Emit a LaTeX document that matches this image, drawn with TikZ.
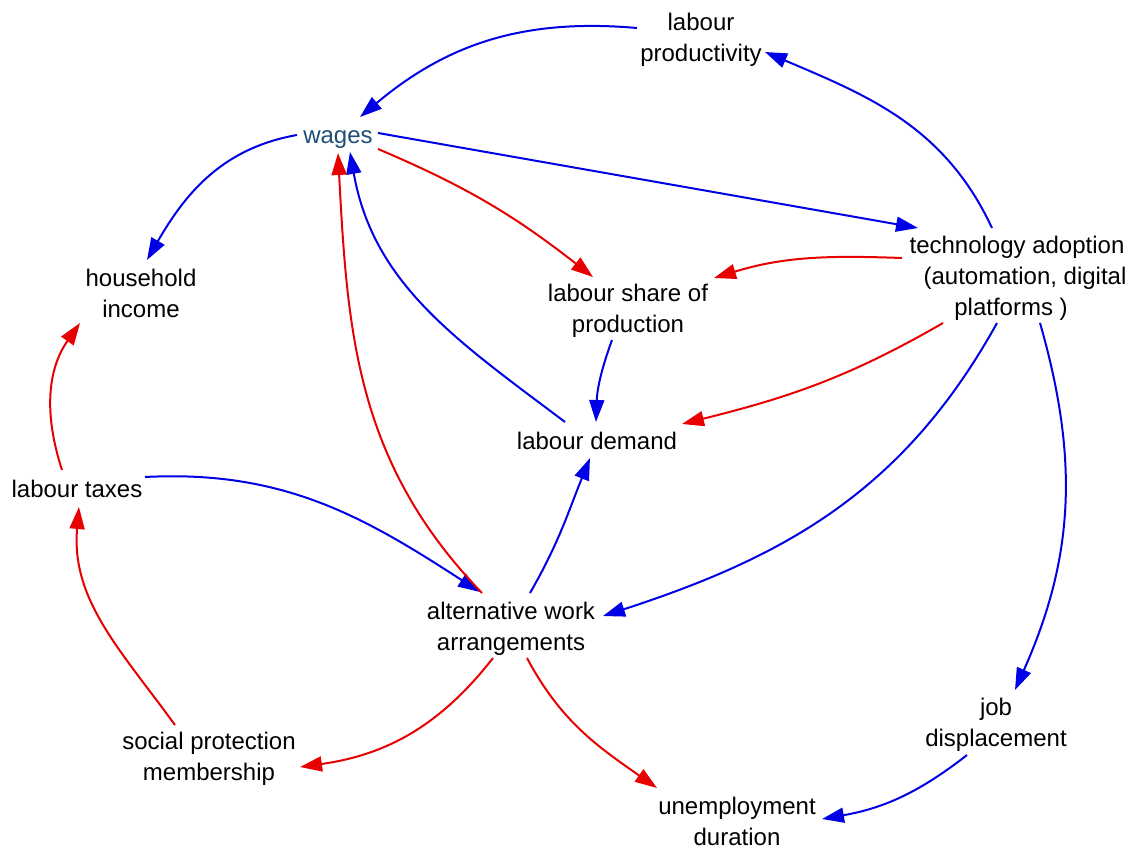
\documentclass[tikz,border=0pt]{standalone}
\usepackage{fontspec}
\setmainfont{Liberation Sans}
\usetikzlibrary{arrows.meta}
\definecolor{linkblue}{RGB}{0,0,230}
\definecolor{linkred}{RGB}{232,0,0}
\definecolor{wagetext}{RGB}{31,78,121}
\tikzset{
  var/.style={font=\fontsize{24}{31}\selectfont, align=center, inner sep=0pt, text=black},
  link/.style={line width=2pt, -{Triangle[length=22pt,width=15pt]}},
  poslink/.style={link, draw=linkblue},
  neglink/.style={link, draw=linkred},
}
\begin{document}
\begin{tikzpicture}[x=1pt,y=1pt]
\useasboundingbox (0,0) rectangle (1131,-848);

% variables
\node[var] (lp) at (701,-40)  {labour\\productivity};
\node[var, text=wagetext] (w) at (338,-140) {wages};
\node[var] (hi) at (141,-293) {household\\income};
\node[var] (ls) at (628,-311) {labour share of\\production};
\node[var] (ld) at (597,-441) {labour demand};
\node[var] (ta) at (1017,-278) {technology adoption\\\hspace*{16pt}(automation, digital\\platforms )\hspace*{12pt}};
\node[var] (lt) at (77,-489)  {labour taxes};
\node[var] (aw) at (511,-629) {alternative work\\arrangements};
\node[var] (jd) at (996,-725) {job\\displacement};
\node[var] (sp) at (209,-759) {social protection\\membership};
\node[var] (ud) at (737,-821) {unemployment\\duration};

% positive links
\draw[poslink] ([shift={(-64,12)}]lp.center) to[out=175,in=40] ([shift={(22,23)}]w.center);
\draw[poslink] ([shift={(-25,50)}]ta.center) to[out=115,in=-23] ([shift={(64,-12)}]lp.center);
\draw[poslink] ([shift={(-41,5)}]w.center) to[out=190,in=60] ([shift={(6,33)}]hi.center);
\draw[poslink] ([shift={(40,7)}]w.center) -- ([shift={(-99,50)}]ta.center);
\draw[poslink] ([shift={(-16,-29)}]ls.center) to[out=250,in=88] ([shift={(-1,19)}]ld.center);
\draw[poslink] ([shift={(-32,19)}]ld.center) to[out=143,in=-80] ([shift={(12,-12)}]w.center);
\draw[poslink] ([shift={(68,12)}]lt.center) to[out=3,in=147] ([shift={(-31,37)}]aw.center);
\draw[poslink] ([shift={(19,36)}]aw.center) to[out=60,in=-112] ([shift={(-7,-17)}]ld.center);
\draw[poslink] ([shift={(-20,-45)}]ta.center) to[out=241,in=18] ([shift={(92,13)}]aw.center);
\draw[poslink] ([shift={(23,-45)}]ta.center) to[out=-74,in=66] ([shift={(19,35)}]jd.center);
\draw[poslink] ([shift={(-29,-30)}]jd.center) to[out=218,in=10] ([shift={(85,2)}]ud.center);

% negative links
\draw[neglink] ([shift={(40,-9)}]w.center) to[out=-23,in=142] ([shift={(-35,34)}]ls.center);
\draw[neglink] ([shift={(-115,20)}]ta.center) to[out=178,in=17] ([shift={(86,33)}]ls.center);
\draw[neglink] ([shift={(-74,-45)}]ta.center) to[out=210,in=14] ([shift={(85,17)}]ld.center);
\draw[neglink] ([shift={(-29,36)}]aw.center) to[out=134,in=-87] ([shift={(0,-13)}]w.center);
\draw[neglink] ([shift={(-15,19)}]lt.center) to[out=108,in=-125] ([shift={(-61,-30)}]hi.center);
\draw[neglink] ([shift={(-34,34)}]sp.center) to[out=126,in=-95] ([shift={(2,-18)}]lt.center);
\draw[neglink] ([shift={(-18,-29)}]aw.center) to[out=232,in=8] ([shift={(91,-8)}]sp.center);
\draw[neglink] ([shift={(16,-29)}]aw.center) to[out=-62,in=145] ([shift={(-80,33)}]ud.center);
\end{tikzpicture}
\end{document}
